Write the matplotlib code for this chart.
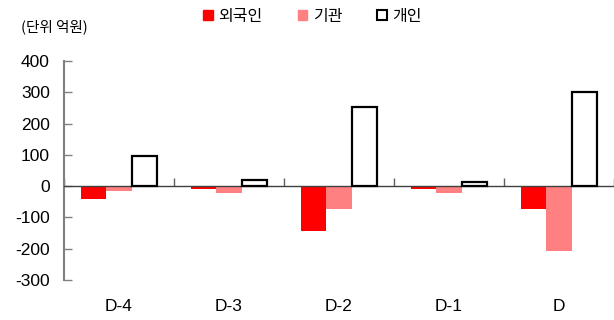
import numpy as np
import matplotlib
matplotlib.use("Agg")
import matplotlib.pyplot as plt
from matplotlib.patches import Patch

plt.rcParams['font.family'] = ['Liberation Sans', 'Noto Sans CJK KR', 'DejaVu Sans']
plt.rcParams['axes.unicode_minus'] = False

# 투자자별 순매수 (억원)
days = ['D-4', 'D-3', 'D-2', 'D-1', 'D']
foreign = [-40, -8, -143, -8, -72]
institution = [-14, -21, -72, -21, -207]
individual = [95, 20, 252, 13, 300]
series_names = ['외국인', '기관', '개인']

fig = plt.figure(figsize=(6.14, 3.2), dpi=100)
ax = fig.add_axes([0.104, 0.125, 0.896, 0.684])

x = np.arange(len(days))
w = 0.23
ax.bar(x - w, foreign, w, color='#FF0000', zorder=2)
ax.bar(x, institution, w, color='#FF8080', zorder=2)
ax.bar(x + w, individual, w, facecolor='white', edgecolor='black', linewidth=1.6, zorder=3)

ax.set_xlim(-0.5, len(days) - 0.5)
ax.set_ylim(-300, 400)
ax.set_yticks(np.arange(-300, 401, 100))
ax.tick_params(axis='y', direction='in', length=6, width=1, color='#808080',
               labelsize=12.5, pad=10, labelcolor='black')

# 0 기준선에 x축, 경계 눈금은 위쪽으로
ax.spines['bottom'].set_position(('data', 0))
ax.spines['bottom'].set_color('#404040')
ax.spines['bottom'].set_linewidth(1)
ax.spines['left'].set_color('#808080')
ax.spines['left'].set_linewidth(1.5)
ax.spines['top'].set_visible(False)
ax.spines['right'].set_visible(False)
ax.set_xticks(np.arange(-0.5, len(days), 1.0))
ax.set_xticklabels([])
ax.tick_params(axis='x', direction='in', length=6, width=1, color='#606060')

for i, d in enumerate(days):
    ax.text(i, -0.12, d, transform=ax.get_xaxis_transform(), ha='center', va='center',
            fontsize=12.5)

fig.text(0.034, 0.915, '(단위 억원)', fontsize=10.5, ha='left', va='center',
         family=['Noto Sans CJK KR', 'DejaVu Sans'])

handles = [Patch(facecolor='#FF0000', edgecolor='#FF0000'),
           Patch(facecolor='#FF8080', edgecolor='#FF8080'),
           Patch(facecolor='white', edgecolor='black', linewidth=1.5)]
fig.legend(handles, series_names, loc='center', bbox_to_anchor=(0.509, 0.95), ncol=3,
           frameon=False, handlelength=0.6, handleheight=0.6, handletextpad=0.35,
           columnspacing=2.2, prop={'family': 'Noto Sans CJK KR', 'size': 11.5})

fig.savefig('out.png', dpi=100)
